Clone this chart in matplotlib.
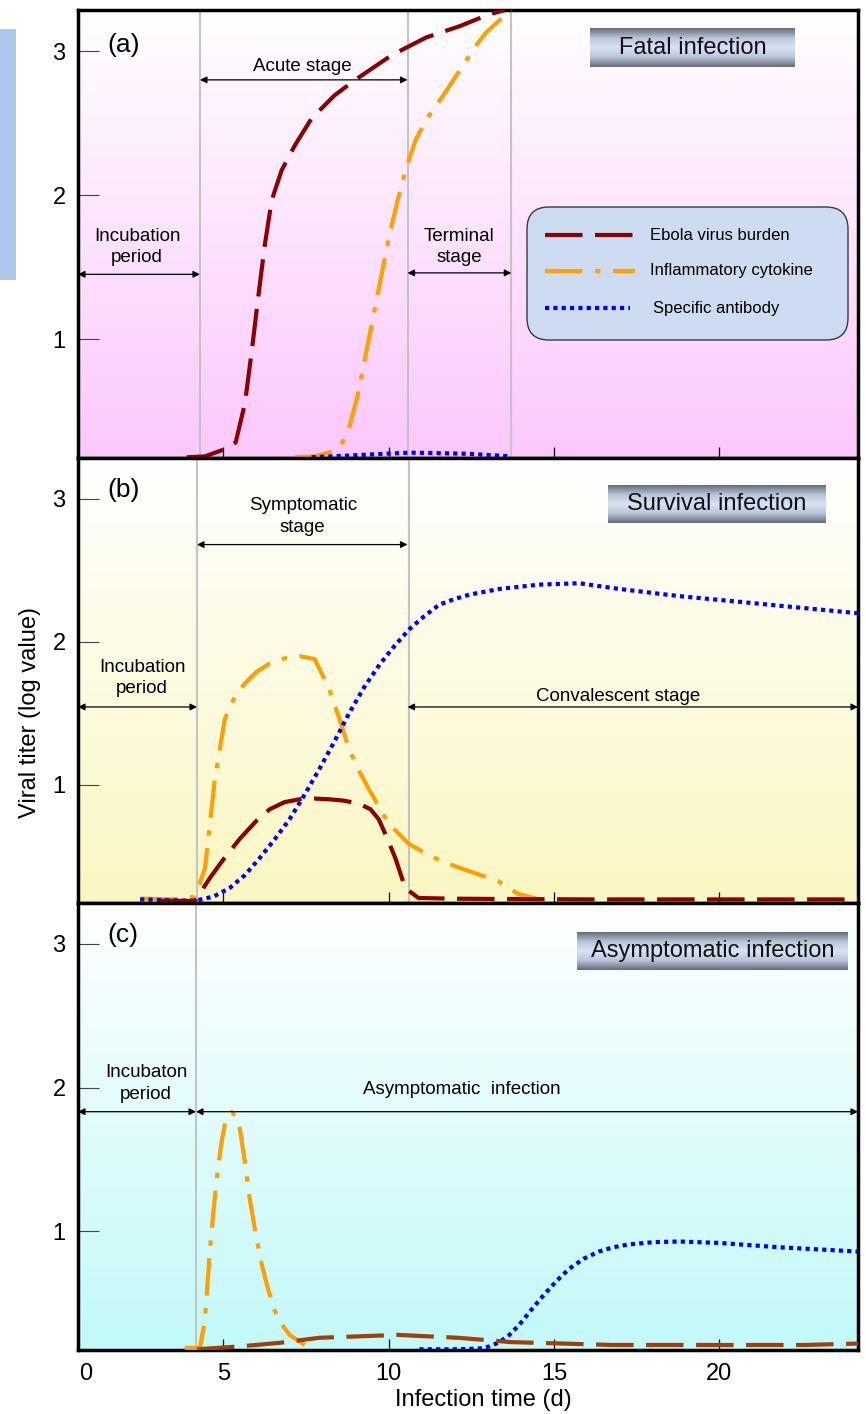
import numpy as np
import matplotlib
matplotlib.use('Agg')
import matplotlib.pyplot as plt
from matplotlib.colors import LinearSegmentedColormap
from matplotlib.patches import FancyBboxPatch, Rectangle
from matplotlib.lines import Line2D
from matplotlib.transforms import Affine2D

plt.rcParams['font.family'] = ['Liberation Sans', 'DejaVu Sans']

# ---- data (day, log titer) ----
# (a) fatal infection
a_ebola_t = [3.89, 4.44, 5.01, 5.37, 5.65, 5.86, 6.04, 6.25, 6.46, 6.76, 7.16, 7.67, 8.36, 8.97, 10.08, 11.14, 12.14, 13.04, 13.5]
a_ebola_v = [0.18, 0.186, 0.234, 0.283, 0.553, 0.922, 1.269, 1.651, 1.963, 2.172, 2.345, 2.533, 2.692, 2.797, 2.97, 3.095, 3.172, 3.255, 3.283]
a_cyto_t = [7.16, 7.76, 8.3, 8.6, 8.82, 9.06, 9.3, 9.54, 9.78, 10.02, 10.27, 10.51, 10.81, 11.14, 11.44, 11.75, 12.05, 12.35, 12.65, 12.95, 13.35, 13.71]
a_cyto_v = [0.18, 0.186, 0.22, 0.283, 0.401, 0.609, 0.887, 1.165, 1.443, 1.72, 1.963, 2.172, 2.38, 2.526, 2.623, 2.727, 2.831, 2.935, 3.04, 3.13, 3.213, 3.283]
a_anti_t = [7.67, 8.82, 10.02, 10.63, 11.23, 12.44, 13.71]
a_anti_v = [0.18, 0.192, 0.206, 0.212, 0.21, 0.204, 0.186]

# (b) survival infection
b_ebola_t = [3.08, 4.14, 4.59, 5.0, 5.5, 6.0, 6.4, 6.85, 7.3, 7.75, 8.2, 8.65, 9.1, 9.45, 9.7, 9.95, 10.2, 10.5, 10.9, 12.0, 16.0, 20.0, 24.2]
b_ebola_v = [0.19, 0.19, 0.35, 0.48, 0.625, 0.75, 0.83, 0.88, 0.9, 0.905, 0.9, 0.89, 0.87, 0.83, 0.76, 0.63, 0.49, 0.28, 0.21, 0.205, 0.2, 0.2, 0.2]
b_cyto_t = [2.48, 3.5, 4.14, 4.44, 4.74, 5.04, 5.35, 5.65, 6.0, 6.4, 6.85, 7.3, 7.76, 8.2, 8.5, 8.8, 9.1, 9.4, 9.7, 10.0, 10.6, 11.2, 11.8, 12.4, 13.3, 13.9, 14.55]
b_cyto_v = [0.206, 0.2, 0.22, 0.415, 1.04, 1.46, 1.62, 1.71, 1.79, 1.85, 1.885, 1.9, 1.88, 1.67, 1.47, 1.25, 1.1, 0.97, 0.85, 0.73, 0.59, 0.51, 0.45, 0.40, 0.33, 0.24, 0.2]
b_anti_t = [2.48, 4.14, 4.7, 5.19, 5.65, 6.1, 6.55, 7.0, 7.45, 7.9, 8.35, 8.8, 9.25, 9.72, 10.17, 10.63, 11.08, 11.53, 12.0, 12.44, 13.35, 14.55, 15.76, 16.97, 18.78, 20.6, 22.4, 24.2]
b_anti_v = [0.2, 0.19, 0.22, 0.28, 0.37, 0.49, 0.62, 0.76, 0.93, 1.11, 1.3, 1.5, 1.68, 1.84, 1.97, 2.09, 2.18, 2.26, 2.3, 2.33, 2.37, 2.40, 2.41, 2.37, 2.32, 2.28, 2.24, 2.2]

# (c) asymptomatic infection
c_ebola_t = [4.2, 5.5, 6.7, 7.9, 9.1, 10.3, 11.2, 12.1, 13.7, 15.25, 16.75, 22.6, 24.2]
c_ebola_v = [0.18, 0.2, 0.225, 0.26, 0.27, 0.28, 0.27, 0.26, 0.23, 0.22, 0.21, 0.21, 0.22]
c_cyto_t = [3.83, 4.29, 4.44, 4.59, 4.71, 4.83, 4.94, 5.04, 5.15, 5.25, 5.38, 5.5, 5.65, 5.8, 5.98, 6.16, 6.35, 6.55, 6.78, 7.0, 7.46]
c_cyto_v = [0.19, 0.19, 0.38, 0.87, 1.17, 1.43, 1.62, 1.74, 1.81, 1.83, 1.8, 1.71, 1.48, 1.22, 0.98, 0.77, 0.6, 0.45, 0.35, 0.28, 0.21]
c_anti_t = [10.93, 12.0, 12.74, 13.05, 13.35, 13.65, 13.95, 14.3, 14.7, 15.1, 15.46, 15.9, 16.36, 16.8, 17.27, 18.0, 18.78, 19.99, 21.8, 24.2]
c_anti_v = [0.18, 0.18, 0.185, 0.2, 0.23, 0.28, 0.35, 0.45, 0.56, 0.66, 0.74, 0.81, 0.86, 0.89, 0.91, 0.925, 0.93, 0.92, 0.89, 0.86]

XMIN, XMAX = 0.6, 24.2
YMIN, YMAX = 0.175, 3.285

EBOLA = '#8b0000'
EBOLA_C = '#a33d0a'
CYTO = '#ffa000'
ANTI = '#0000ff'
LS_DASH = (0, (9, 3))
LS_DASHDOT = (0, (9, 3, 1.3, 3))
LS_DOT = (0, (1, 1))
LW = 3

fig = plt.figure(figsize=(8.66, 14.14), dpi=100)
# pixel coordinates measured from the top-left corner of the image
PX = Affine2D().scale(1 / 100, -1 / 100).translate(0, 14.14) + fig.dpi_scale_trans


def px_box(x0, y0, x1, y1):
    return [x0 / 866, 1 - y1 / 1414, (x1 - x0) / 866, (y1 - y0) / 1414]


def arrow(ax, x0, x1, y):
    ax.annotate('', xy=(x1, y), xytext=(x0, y),
                arrowprops=dict(arrowstyle='<|-|>', color='black', lw=0.9,
                                mutation_scale=10, shrinkA=0, shrinkB=0), zorder=4)


def title_box(x0, y0, x1, y1, text):
    tax = fig.add_axes(px_box(x0, y0, x1, y1))
    cm = LinearSegmentedColormap.from_list('tb', ['#666d78', '#b9c5d8', '#d8e4f6', '#b9c5d8', '#666d78'])
    tax.imshow(np.linspace(0, 1, 100).reshape(-1, 1), cmap=cm, aspect='auto')
    tax.set_axis_off()
    tax.text(0.5, 0.5, text, transform=tax.transAxes, ha='center', va='center', fontsize=17, color='#111111')


panels = [
    dict(box=(78, 10, 858, 458), bg='#fbc8fb', label='(a)', vlines=[4.29, 10.57, 13.71],
         lines=[(a_ebola_t, a_ebola_v, EBOLA, LS_DASH), (a_cyto_t, a_cyto_v, CYTO, LS_DASHDOT),
                (a_anti_t, a_anti_v, ANTI, LS_DOT)]),
    dict(box=(78, 458, 858, 903), bg='#fbf7c2', label='(b)', vlines=[4.2, 10.6],
         lines=[(b_cyto_t, b_cyto_v, CYTO, LS_DASHDOT), (b_anti_t, b_anti_v, ANTI, LS_DOT),
                (b_ebola_t, b_ebola_v, EBOLA, LS_DASH)]),
    dict(box=(78, 903, 858, 1350), bg='#c2f9f9', label='(c)', vlines=[4.17],
         lines=[(c_cyto_t, c_cyto_v, CYTO, LS_DASHDOT), (c_anti_t, c_anti_v, ANTI, LS_DOT),
                (c_ebola_t, c_ebola_v, EBOLA_C, LS_DASH)]),
]

axes = []
for p in panels:
    ax = fig.add_axes(px_box(*p['box']))
    cm = LinearSegmentedColormap.from_list('bg', ['#ffffff', p['bg']])
    ax.imshow(np.linspace(0, 1, 256).reshape(-1, 1), cmap=cm, aspect='auto',
              extent=[XMIN, XMAX, YMIN, YMAX], origin='upper', zorder=0)
    for v in p['vlines']:
        ax.axvline(v, color='#c4c4c4', lw=1.5, zorder=1)
    for t, v, c, ls in p['lines']:
        ax.plot(t, v, color=c, lw=LW, linestyle=ls, zorder=3)
    ax.set_xlim(XMIN, XMAX)
    ax.set_ylim(YMIN, YMAX)
    ax.set_yticks([1, 2, 3])
    ax.set_xticks([5, 10, 15, 20])
    ax.tick_params(axis='y', direction='in', length=15, width=0.8, color='#444444', labelsize=17, pad=9)
    ax.tick_params(axis='x', direction='in', length=8, width=0.9, color='black', labelsize=17, pad=9)
    for s in ax.spines.values():
        s.set_linewidth(2.5)
    ax.text(1.48, 3.04 + (0.02 if p['label'] != '(a)' else 0), p['label'], fontsize=19, ha='left', va='center', zorder=5)
    axes.append(ax)

ax_a, ax_b, ax_c = axes
ax_a.tick_params(axis='x', labelbottom=False)
ax_b.tick_params(axis='x', labelbottom=False)
ax_c.set_xticks([0.82], minor=True)
ax_c.set_xticklabels(['0'], minor=True)
ax_c.tick_params(axis='x', which='minor', length=0, labelsize=17, pad=9)

# ---- panel (a) annotations ----
ax_a.text(7.4, 2.89, 'Acute stage', ha='center', va='center', fontsize=13.5)
arrow(ax_a, 4.29, 10.57, 2.80)
ax_a.text(2.39, 1.64, 'Incubation\nperiod', ha='center', va='center', fontsize=13.5, linespacing=1.35)
arrow(ax_a, XMIN, 4.29, 1.45)
ax_a.text(12.14, 1.64, 'Terminal\nstage', ha='center', va='center', fontsize=13.5, linespacing=1.35)
arrow(ax_a, 10.57, 13.71, 1.46)

# ---- panel (b) annotations ----
ax_b.text(7.4, 2.876, 'Symptomatic\nstage', ha='center', va='center', fontsize=13.5, linespacing=1.35)
arrow(ax_b, 4.2, 10.57, 2.68)
ax_b.text(2.54, 1.747, 'Incubation\nperiod', ha='center', va='center', fontsize=13.5, linespacing=1.35)
arrow(ax_b, XMIN, 4.2, 1.545)
ax_b.text(16.94, 1.62, 'Convalescent stage', ha='center', va='center', fontsize=13.5)
arrow(ax_b, 10.57, XMAX, 1.545)

# ---- panel (c) annotations ----
ax_c.text(2.66, 2.03, 'Incubaton\nperiod', ha='center', va='center', fontsize=13.5, linespacing=1.35)
arrow(ax_c, XMIN, 4.17, 1.833)
ax_c.text(12.2, 1.986, 'Asymptomatic  infection', ha='center', va='center', fontsize=13.5)
arrow(ax_c, 4.17, XMAX, 1.833)

# ---- legend box (panel a) ----
leg = FancyBboxPatch((527, 207), 321, 133, boxstyle='round,pad=0,rounding_size=22',
                     transform=PX, facecolor='#cddcf0', edgecolor='#3a3a3a', lw=1, zorder=6)
fig.add_artist(leg)
legend_rows = [('Ebola virus burden', EBOLA, LS_DASH, 235, 643, 650),
               ('Inflammatory cytokine', CYTO, LS_DASHDOT, 271, 635, 650),
               ('Specific antibody', ANTI, LS_DOT, 308, 630, 653)]
for name, c, ls, y, xend, xt in legend_rows:
    fig.add_artist(Line2D([545, xend], [y, y], transform=PX, color=c, lw=LW, linestyle=ls, zorder=7))
    fig.text(xt, y, name, transform=PX, ha='left', va='center', fontsize=12, zorder=7)

# ---- title boxes ----
title_box(590, 28, 795, 67, 'Fatal infection')
title_box(608, 485, 826, 523, 'Survival infection')
title_box(577, 932, 848, 970, 'Asymptomatic infection')

# small blue bar on the left edge
fig.add_artist(Rectangle((0, 29), 16, 251, transform=PX, facecolor='#adc8ea', edgecolor='none'))

fig.text(30, 712, 'Viral titer (log value)', transform=PX, rotation=90, ha='center', va='center', fontsize=17)
fig.text(483, 1400, 'Infection time (d)', transform=PX, ha='center', va='center', fontsize=17)

fig.savefig('out.png', dpi=100)
